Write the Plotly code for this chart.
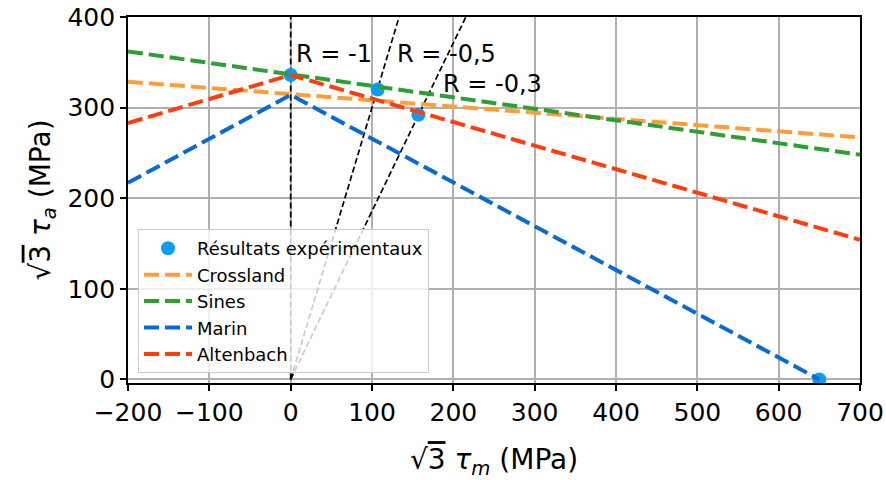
import plotly.graph_objects as go

# ---- data ----
exp_x = [0, 107, 157, 650]
exp_y = [336, 320, 292, 0]

crossland_x = [-200, 700]
crossland_y = [328.5, 267]

sines_x = [-200, 700]
sines_y = [362, 248]

marin_x = [-200, 0, 650]
marin_y = [217, 314, 0]

altenbach_x = [-200, 0, 700]
altenbach_y = [283, 336, 154]

R_values = [-1, -0.5, -0.3]
R_line_top = 400

label_text = ["R = -1", "R = -0,5", "R = -0,3"]
label_x = [4, 128, 185]
label_y = [359, 359, 326]

x_ticks = [-200, -100, 0, 100, 200, 300, 400, 500, 600, 700]
y_ticks = [0, 100, 200, 300, 400]

FONT = "DejaVu Sans"

fig = go.Figure()

# loading paths R = const (through the origin)
for R in R_values:
    ratio = (1 + R) / (1 - R)
    fig.add_trace(go.Scatter(
        x=[0, ratio * R_line_top], y=[0, R_line_top], mode="lines",
        line=dict(color="black", width=1.7, dash="6px,3px"),
        showlegend=False, hoverinfo="skip"))

fig.add_trace(go.Scatter(
    x=exp_x, y=exp_y, mode="markers", name="Résultats expérimentaux",
    marker=dict(color="#0d9cf5", size=14), cliponaxis=True))

models = [
    ("Crossland", crossland_x, crossland_y, "#ff9d3a"),
    ("Sines", sines_x, sines_y, "#2e9e35"),
    ("Marin", marin_x, marin_y, "#0a6ad0"),
    ("Altenbach", altenbach_x, altenbach_y, "#ff3d0d"),
]
for name, xs, ys, col in models:
    fig.add_trace(go.Scatter(
        x=xs, y=ys, mode="lines", name=name,
        line=dict(color=col, width=4, dash="15px,6px")))

for t, xx, yy in zip(label_text, label_x, label_y):
    fig.add_annotation(x=xx, y=yy, text=t, showarrow=False,
                       xanchor="left", yanchor="middle",
                       font=dict(family=FONT, size=24, color="black"))

axis_common = dict(
    showline=True, mirror=True, linecolor="black", linewidth=1.6,
    ticks="outside", ticklen=6, tickwidth=1.5, tickcolor="black",
    showgrid=True, gridcolor="#b0b0b0", gridwidth=1.5, zeroline=False,
    tickfont=dict(family=FONT, size=25, color="black"),
    automargin=False,
)

SQRT3 = "√<span style='text-decoration:overline'>3</span>"

fig.update_xaxes(range=[-200, 700], tickvals=x_ticks,
                 title=dict(text=SQRT3 + " <i>τ</i><sub><i>m</i></sub> (MPa)",
                            font=dict(family=FONT, size=28, color="black"),
                            standoff=26),
                 **axis_common)
fig.update_yaxes(range=[-4, 400], tickvals=y_ticks,
                 title=dict(text=SQRT3 + " <i>τ</i><sub><i>a</i></sub> (MPa)",
                            font=dict(family=FONT, size=28, color="black"),
                            standoff=9),
                 **axis_common)

fig.update_layout(
    width=886, height=480,
    margin=dict(l=128, r=26, t=17, b=97),
    plot_bgcolor="white", paper_bgcolor="white",
    font=dict(family=FONT, color="black"),
    legend=dict(x=0.0137, y=0.027, xanchor="left", yanchor="bottom",
                bgcolor="rgba(255,255,255,0.8)", bordercolor="#cccccc",
                borderwidth=1, font=dict(family=FONT, size=18, color="black"),
                itemwidth=48),
)

fig.write_html("out.html", config={"displayModeBar": False},
               post_script="document.body.style.margin='0px';document.body.style.overflow='hidden';")
